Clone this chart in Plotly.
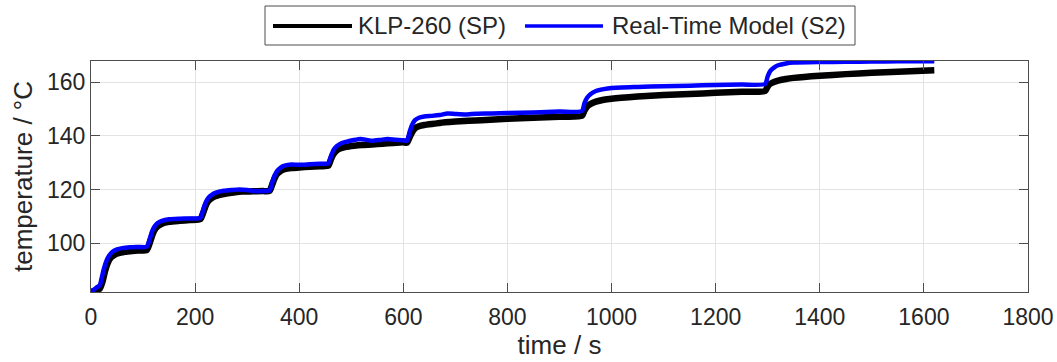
import plotly.graph_objects as go

# --- data ---
time_klp = [0, 10, 17, 22, 27, 32, 38, 45, 55, 70, 90, 107,
            112, 117, 122, 128, 136, 150, 170, 190, 210,
            215, 220, 225, 232, 240, 255, 270, 290, 310, 330, 343,
            348, 353, 358, 365, 372, 385, 400, 420, 440, 456,
            461, 466, 472, 480, 490, 505, 520, 540, 560, 580, 600, 607,
            612, 617, 622, 630, 640, 660, 680, 700, 750, 800, 850, 900, 943,
            948, 953, 960, 970, 985, 1000, 1050, 1100, 1150, 1200, 1250, 1295,
            1300, 1305, 1312, 1320, 1335, 1350, 1400, 1450, 1500, 1550, 1620]
temp_klp = [81.7, 82.3, 83.0, 85.5, 89.5, 92.5, 94.5, 95.6, 96.3, 96.8, 97.2, 97.4,
            99.5, 102.5, 104.8, 106.2, 107.2, 107.9, 108.3, 108.6, 108.9,
            111.0, 113.8, 115.6, 116.8, 117.6, 118.3, 118.8, 119.2, 119.3, 119.4, 119.5,
            121.8, 124.3, 125.9, 127.0, 127.6, 128.0, 128.2, 128.5, 128.7, 128.9,
            131.3, 133.3, 134.6, 135.4, 135.9, 136.3, 136.6, 136.8, 137.1, 137.4, 137.6, 137.5,
            139.5, 141.5, 142.8, 143.6, 144.1, 144.6, 145.1, 145.4, 145.9, 146.4, 146.8, 147.2, 147.5,
            149.5, 151.0, 152.0, 152.8, 153.5, 153.9, 154.7, 155.3, 155.7, 156.1, 156.5, 156.8,
            158.5, 159.5, 160.2, 160.7, 161.3, 161.7, 162.5, 163.1, 163.6, 164.0, 164.5]

time_rtm = [0, 5, 10, 17, 20, 25, 30, 35, 40, 50, 60, 75, 90, 107,
            112, 117, 122, 128, 136, 150, 170, 190, 210,
            215, 220, 225, 232, 240, 255, 270, 285, 300, 315, 330, 343,
            348, 353, 358, 365, 372, 385, 400, 420, 440, 456,
            461, 466, 472, 480, 490, 505, 518, 530, 540, 555, 570, 585, 600, 607,
            612, 617, 622, 630, 640, 655, 670, 685, 700, 720, 740, 770, 800, 850, 900, 943,
            948, 953, 960, 970, 985, 1000, 1050, 1100, 1150, 1200, 1250, 1295,
            1300, 1305, 1312, 1320, 1335, 1350, 1400, 1450, 1500, 1550, 1620]
temp_rtm = [81.7, 82.5, 83.3, 84.2, 86.5, 90.5, 93.5, 95.3, 96.5, 97.6, 98.1, 98.4, 98.5, 98.6,
            101.0, 104.2, 106.2, 107.5, 108.3, 108.9, 109.1, 109.2, 109.4,
            112.0, 115.0, 116.8, 118.0, 118.8, 119.5, 119.8, 120.0, 119.8, 119.4, 119.4, 119.6,
            122.5, 125.3, 127.0, 128.3, 128.9, 129.3, 129.2, 129.4, 129.6, 129.8,
            132.5, 134.8, 136.2, 137.2, 137.8, 138.5, 138.9, 138.5, 138.2, 138.5, 138.9, 138.6, 138.4, 138.2,
            141.5, 144.2, 145.8, 146.8, 147.3, 147.5, 147.8, 148.4, 148.2, 148.0, 148.3, 148.4, 148.6, 148.8, 149.1, 149.3,
            152.3, 154.3, 155.7, 156.8, 157.5, 157.9, 158.3, 158.6, 158.8, 159.0, 159.2, 159.4,
            162.3, 164.3, 165.5, 166.4, 167.1, 167.4, 167.6, 167.7, 167.8, 167.9, 167.9]

series_names = ["KLP-260 (SP)", "Real-Time Model (S2)"]
x_ticks = [0, 200, 400, 600, 800, 1000, 1200, 1400, 1600, 1800]
y_ticks = [100, 120, 140, 160]

FONT = "Arial, 'Liberation Sans', Helvetica, sans-serif"
TXT = "#262626"
AX = "#4d4d4d"

fig = go.Figure()
fig.add_trace(go.Scatter(x=time_klp, y=temp_klp, mode="lines", name=series_names[0],
                         line=dict(color="black", width=6.5, shape="spline", smoothing=0.6),
                         showlegend=False))
fig.add_trace(go.Scatter(x=time_rtm, y=temp_rtm, mode="lines", name=series_names[1],
                         line=dict(color="#0000ff", width=4.5, shape="spline", smoothing=0.6),
                         showlegend=False))

axis_common = dict(showline=True, linecolor=AX, linewidth=1, mirror="ticks",
                   ticks="inside", ticklen=9, tickcolor=AX, tickwidth=1,
                   showgrid=True, gridcolor="#e3e3e3", gridwidth=1, zeroline=False,
                   tickfont=dict(family=FONT, size=23, color=TXT))

fig.update_xaxes(range=[0, 1800], tickvals=x_ticks, ticktext=[str(v) for v in x_ticks],
                 ticklabelstandoff=4,
                 title=dict(text="time / s", font=dict(family=FONT, size=26, color=TXT), standoff=0),
                 **axis_common)
fig.update_yaxes(range=[81.7, 168], tickvals=y_ticks, ticktext=[str(v) for v in y_ticks],
                 title=dict(text="temperature / °C", font=dict(family=FONT, size=26, color=TXT), standoff=6),
                 **axis_common)

# legend drawn as a boxed row above the plot (paper coordinates)
W = 937.0
H = 231.0
def px(p):
    return (p - 91) / W
def py(q):
    return (292 - q) / H

ly = py(26)
shapes = [
    dict(type="rect", xref="paper", yref="paper", x0=px(265), x1=px(855), y0=py(45), y1=py(6),
         line=dict(color=AX, width=1), fillcolor="white", layer="above"),
    dict(type="line", xref="paper", yref="paper", x0=px(273), x1=px(352), y0=ly, y1=ly,
         line=dict(color="black", width=4), layer="above"),
    dict(type="line", xref="paper", yref="paper", x0=px(525), x1=px(603), y0=ly, y1=ly,
         line=dict(color="#0000ff", width=3.5), layer="above"),
]
annotations = [
    dict(xref="paper", yref="paper", x=px(356), y=ly, text=series_names[0], showarrow=False,
         xanchor="left", yanchor="middle", font=dict(family=FONT, size=24, color=TXT)),
    dict(xref="paper", yref="paper", x=px(610), y=ly, text=series_names[1], showarrow=False,
         xanchor="left", yanchor="middle", font=dict(family=FONT, size=24, color=TXT)),
]

fig.update_layout(width=1057, height=362, margin=dict(l=91, r=29, t=61, b=70, autoexpand=False),
                  plot_bgcolor="white", paper_bgcolor="white", showlegend=False,
                  shapes=shapes, annotations=annotations,
                  font=dict(family=FONT, color=TXT))

fig.write_html("out.html")
